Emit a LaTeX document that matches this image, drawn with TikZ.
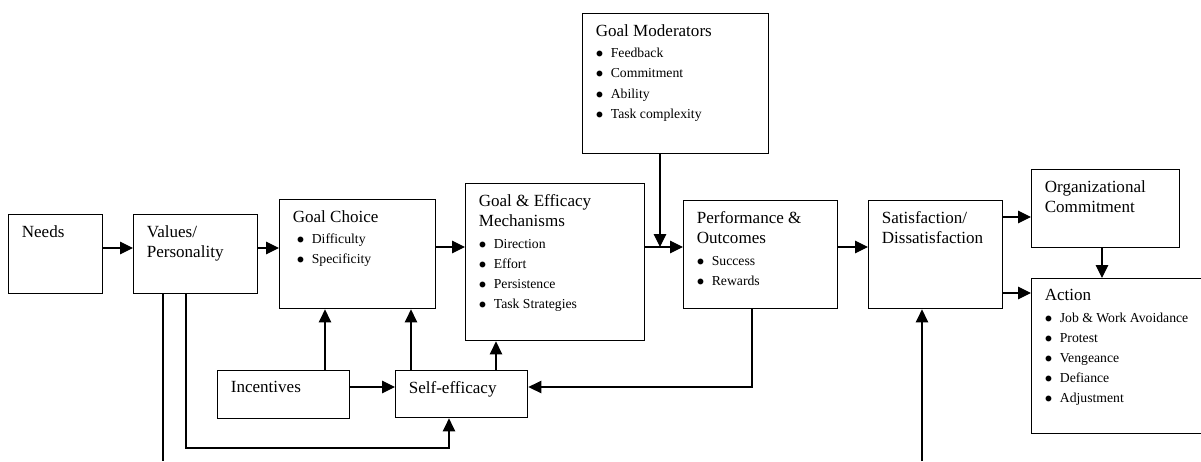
\documentclass[tikz,border=0pt]{standalone}
\usepackage{fontspec}
\setmainfont{Liberation Serif}
\usepackage{tikz}
\usetikzlibrary{positioning,calc,arrows.meta}

\newcommand{\itm}[1]{{\fontsize{7.8}{11.4}\selectfont\makebox[0.3cm][l]{$\bullet$}#1}}

\begin{document}
\begin{tikzpicture}[
	x=0.02cm, y=-0.02cm,
	blk/.style={
		draw=black, line width=0.8pt, rectangle,
		anchor=north west, inner sep=0pt
	},
	txt/.style={
		anchor=north west, align=left,
		inner xsep=0.27cm, inner ysep=0.22cm,
		font=\fontsize{9.7}{11.4}\selectfont
	},
	arr/.style={draw=black, line width=0.6pt, -{Triangle[length=0.26cm, width=0.25cm]}},
	ln/.style={draw=black, line width=0.6pt}
	]
	\useasboundingbox (0,0) rectangle (1201,461);
	
	% --- HÀNG TRÊN: chuỗi chính ---
	\node[blk, minimum width=1.88cm, minimum height=1.58cm,
		label={[txt]north west:Needs}] (needs) at (8,214) {};
	\node[blk, minimum width=2.48cm, minimum height=1.58cm,
		label={[txt]north west:{Values/\\Personality}}] (vals) at (133,214) {};
	\node[blk, minimum width=3.12cm, minimum height=2.18cm,
		label={[txt]north west:{Goal Choice\\[1pt]\hspace*{0.08cm}\itm{Difficulty}\\\hspace*{0.08cm}\itm{Specificity}}}] (gc) at (279,199) {};
	\node[blk, minimum width=3.58cm, minimum height=3.14cm,
		label={[txt]north west:{Goal \& Efficacy\\Mechanisms\\[1pt]\itm{Direction}\\\itm{Effort}\\\itm{Persistence}\\\itm{Task Strategies}}}] (gem) at (465,183) {};
	\node[blk, minimum width=3.72cm, minimum height=2.80cm,
		label={[txt]north west:{Goal Moderators\\[1pt]\itm{Feedback}\\\itm{Commitment}\\\itm{Ability}\\\itm{Task complexity}}}] (gm) at (582,13) {};
	\node[blk, minimum width=3.08cm, minimum height=2.16cm,
		label={[txt]north west:{Performance \&\\Outcomes\\[1pt]\itm{Success}\\\itm{Rewards}}}] (perf) at (683,200) {};
	\node[blk, minimum width=2.68cm, minimum height=2.16cm,
		label={[txt]north west:{Satisfaction/\\Dissatisfaction}}] (sat) at (868,200) {};
	\node[blk, minimum width=2.96cm, minimum height=1.56cm,
		label={[txt]north west:{Organizational\\Commitment}}] (oc) at (1031,169) {};
	\node[blk, minimum width=3.50cm, minimum height=3.10cm,
		label={[txt]north west:{Action\\[1pt]\itm{Job \& Work Avoidance}\\\itm{Protest}\\\itm{Vengeance}\\\itm{Defiance}\\\itm{Adjustment}}}] (act) at (1031,278) {};
	
	% --- HÀNG DƯỚI ---
	\node[blk, minimum width=2.64cm, minimum height=0.96cm,
		label={[txt]north west:Incentives}] (inc) at (217,370) {};
	\node[blk, minimum width=2.64cm, minimum height=0.94cm,
		label={[txt]north west:Self-efficacy}] (se) at (395,370) {};
	
	% --- MŨI TÊN CHUỖI CHÍNH ---
	\draw[arr] (needs.east |- 0,248) -- (vals.west |- 0,248);
	\draw[arr] (vals.east |- 0,248) -- (gc.west |- 0,248);
	\draw[arr] (gc.east |- 0,247) -- (gem.west |- 0,247);
	\coordinate (jn) at (660,247);
	\draw[arr] (gem.east |- jn) -- (perf.west |- jn);
	\draw[arr] (gm.south -| jn) -- (jn);
	\draw[arr] (perf.east |- jn) -- (sat.west |- jn);
	\draw[arr] (sat.east |- 0,217) -- (oc.west |- 0,217);
	\draw[arr] (sat.east |- 0,293) -- (act.west |- 0,293);
	\draw[arr] (oc.south -| 1102,0) -- (act.north -| 1102,0);
	
	% --- MŨI TÊN HÀNG DƯỚI ---
	\draw[arr] (inc.north -| 325,0) -- (gc.south -| 325,0);
	\draw[arr] (se.north -| 411,0) -- (gc.south -| 411,0);
	\draw[arr] (se.north -| 496,0) -- (gem.south -| 496,0);
	\draw[arr] (inc.east |- 0,387) -- (se.west |- 0,387);
	\draw[arr] (perf.south -| 752,0) |- (se.east |- 0,387);
	\draw[arr] (vals.south -| 186,0) |- (449,448) -- (se.south -| 449,0);
	
	% --- đầu tự do ở mép dưới ---
	\coordinate (vout) at (163,461);
	\draw[ln] (vals.south -| vout) -- (vout);
	\coordinate (sin) at (922,461);
	\draw[arr] (sin) -- (sat.south -| sin);
	
\end{tikzpicture}
\end{document}
